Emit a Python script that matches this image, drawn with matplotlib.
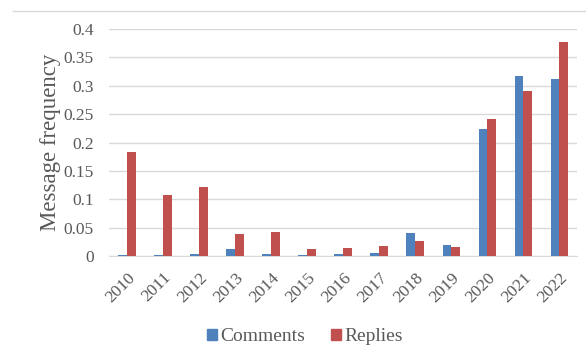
import matplotlib.pyplot as plt
import numpy as np
from matplotlib.lines import Line2D

years = ["2010", "2011", "2012", "2013", "2014", "2015", "2016",
         "2017", "2018", "2019", "2020", "2021", "2022"]
comments = [0.002, 0.002, 0.004, 0.012, 0.004, 0.002, 0.004,
            0.005, 0.040, 0.019, 0.224, 0.317, 0.312]
replies = [0.184, 0.108, 0.121, 0.038, 0.043, 0.012, 0.014,
           0.017, 0.027, 0.016, 0.241, 0.291, 0.378]

BLUE = "#4f81bd"
RED = "#c0504d"
GRID = "#d9d9d9"
TEXT = "#595959"

plt.rcParams["font.family"] = ["Liberation Serif", "DejaVu Serif"]

fig = plt.figure(figsize=(5.86, 3.51), dpi=100)
ax = fig.add_axes([0.186, 0.271, 0.799, 0.646])

x = np.arange(len(years))
w = 0.24
ax.bar(x - w / 2, comments, w, color=BLUE, label="Comments", zorder=3)
ax.bar(x + w / 2, replies, w, color=RED, label="Replies", zorder=3)

ax.set_xlim(-0.5, len(years) - 0.5)
ax.set_ylim(0, 0.4)
ax.set_yticks(np.arange(0, 0.41, 0.05))
ax.set_yticklabels(["0", "0.05", "0.1", "0.15", "0.2", "0.25", "0.3", "0.35", "0.4"],
                   fontsize=12.5, color=TEXT)
ax.set_xticks(x)
ax.set_xticklabels(years, rotation=45, ha="right", rotation_mode="anchor",
                   fontsize=12.5, color=TEXT)
ax.tick_params(axis="y", length=0, pad=11)
ax.tick_params(axis="x", length=0, pad=10)
ax.grid(axis="y", color=GRID, linewidth=1, zorder=0)
for s in ["top", "right", "left"]:
    ax.spines[s].set_visible(False)
ax.spines["bottom"].set_color(GRID)
ax.set_ylabel("Message frequency", fontsize=16.5, color=TEXT, labelpad=2)

fig.add_artist(Line2D([0.022, 1.0], [0.969, 0.969], color=GRID, linewidth=1))

handles = [plt.Rectangle((0, 0), 1, 1, color=BLUE), plt.Rectangle((0, 0), 1, 1, color=RED)]
fig.legend(handles, ["Comments", "Replies"], loc="center", bbox_to_anchor=(0.52, 0.04),
           ncol=2, frameon=False, fontsize=14, handlelength=0.55, handleheight=0.55,
           handletextpad=0.15, columnspacing=1.3, labelcolor=TEXT)

fig.savefig("out.png", dpi=100)
